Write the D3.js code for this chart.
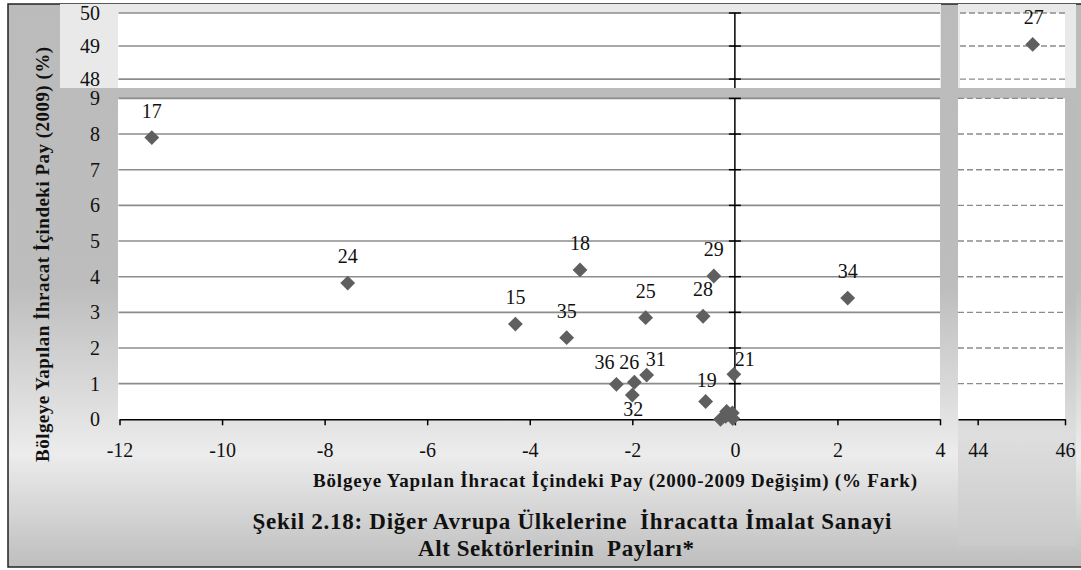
<!DOCTYPE html>
<html>
<head>
<meta charset="utf-8">
<script src="https://cdn.jsdelivr.net/npm/d3@7/dist/d3.min.js"></script>
<style>
  html, body { margin: 0; padding: 0; background: #ffffff; }
  svg { display: block; }
  svg text { font-family: "Liberation Serif", "Times New Roman", Times, serif; fill: #111; }
</style>
</head>
<body>
<svg id="chart" width="1081" height="570"></svg>
<script>
// ---- DATA ----
const sectors = ["17","24","15","18","35","25","28","29","34","36","26","31","32","21","19","","","","",""];
const xChange = [-11.37,-7.55,-4.28,-3.02,-3.28,-1.74,-0.62,-0.41,2.20,-2.31,-1.96,-1.72,-2.00,-0.02,-0.57,-0.28,-0.16,-0.05,-0.04,-0.18];
const yShare  = [7.90,3.82,2.67,4.19,2.29,2.85,2.89,4.02,3.40,0.98,1.04,1.24,0.68,1.26,0.50,0.00,0.22,0.18,0.02,0.08];
const outlierSectors = ["27"];
const outlierX = [45.26];
const outlierY = [49.05];
const xTicksMain = [-12,-10,-8,-6,-4,-2,0,2,4];
const xTicksRight = [44,46];
const yTicksMain = [0,1,2,3,4,5,6,7,8,9];
const yTicksTop = [48,49,50];
const xTitle = "Bölgeye Yapılan İhracat İçindeki Pay (2000-2009 Değişim) (% Fark)";
const yTitle = "Bölgeye Yapılan İhracat İçindeki Pay (2009) (%)";
const titleLines = ["Şekil 2.18: Diğer Avrupa Ülkelerine  İhracatta İmalat Sanayi", "Alt Sektörlerinin  Payları*"];

// ---- STYLE / LAYOUT ----
const FONT = "'Liberation Serif', 'Times New Roman', Times, serif";
const labelOffset = { "36":[-12,-15], "26":[-5,-13], "31":[9,-9], "32":[1,21], "21":[11,-8], "19":[1,-14] };
const defaultOffset = [0,-20];

const svg = d3.select("#chart");
const defs = svg.append("defs");
const g1 = defs.append("linearGradient").attr("id","bgGrad").attr("x1",0).attr("y1",0).attr("x2",0).attr("y2",1);
[[0,"#bbbbbb"],[0.5,"#bdbdbd"],[0.8,"#ececec"],[1,"#bebebe"]].forEach(s=>g1.append("stop").attr("offset",s[0]).attr("stop-color",s[1]));
const g2 = defs.append("linearGradient").attr("id","rightGrad").attr("x1",0).attr("y1",0).attr("x2",0).attr("y2",1);
[[0,"#bbbbbb"],[0.45,"#bcbcbc"],[0.75,"#dedede"],[1,"#cacaca"]].forEach(s=>g2.append("stop").attr("offset",s[0]).attr("stop-color",s[1]));

// scales
const x = d3.scaleLinear().domain([-12,4]).range([119.5,940]);
const xR = d3.scaleLinear().domain([43.55,46]).range([958,1065]);
const y = d3.scaleLinear().domain([0,9]).range([419.3,98.4]);
const yT = d3.scaleLinear().domain([47.73,50]).range([88,13]);

// frame background
svg.append("rect").attr("x",8).attr("y",4).attr("width",1090).attr("height",563)
  .attr("fill","url(#bgGrad)").attr("stroke","#222").attr("stroke-width",1.5);

// right lower panel background
svg.append("rect").attr("x",958).attr("y",99).attr("width",118).attr("height",447).attr("fill","url(#rightGrad)");

// top panels backgrounds
svg.append("rect").attr("x",60).attr("y",4).attr("width",881).attr("height",84).attr("fill","#e9e9e9");
svg.append("rect").attr("x",958).attr("y",4).attr("width",118).attr("height",84).attr("fill","#e9e9e9");

// plot areas
svg.append("rect").attr("x",x(-12)-1.5).attr("y",yT(50)).attr("width",x(4)-x(-12)+1.5).attr("height",yT(47.73)-yT(50)).attr("fill","#fff");
svg.append("rect").attr("x",xR(43.55)+2).attr("y",yT(50)).attr("width",xR(46)-xR(43.55)-2).attr("height",yT(47.73)-yT(50)).attr("fill","#fff");
svg.append("rect").attr("x",x(-12)-1.5).attr("y",y(9)).attr("width",x(4)-x(-12)+1.5).attr("height",y(0)-y(9)).attr("fill","#fff");
svg.append("rect").attr("x",xR(43.55)).attr("y",y(9)).attr("width",xR(46)-xR(43.55)).attr("height",y(0)-y(9)).attr("fill","#fff");

// gridlines
const gridMain = yTicksMain.filter(v=>v>0);
svg.append("g").selectAll("line").data(gridMain).join("line")
  .attr("x1",x(-12)-1).attr("x2",x(4)).attr("y1",d=>y(d)).attr("y2",d=>y(d))
  .attr("stroke","#8c8c8c").attr("stroke-width",1.6);
svg.append("g").selectAll("line").data(yTicksTop).join("line")
  .attr("x1",x(-12)-1).attr("x2",x(4)).attr("y1",d=>yT(d)).attr("y2",d=>yT(d))
  .attr("stroke","#8c8c8c").attr("stroke-width",1.6);
svg.append("g").selectAll("line").data(gridMain).join("line")
  .attr("x1",xR(43.55)).attr("x2",xR(46)).attr("y1",d=>y(d)).attr("y2",d=>y(d))
  .attr("stroke","#8c8c8c").attr("stroke-width",1.4).attr("stroke-dasharray","6,3");
svg.append("g").selectAll("line").data(yTicksTop).join("line")
  .attr("x1",xR(43.55)+2).attr("x2",xR(46)).attr("y1",d=>yT(d)).attr("y2",d=>yT(d))
  .attr("stroke","#8c8c8c").attr("stroke-width",1.4).attr("stroke-dasharray","6,3");

// vertical axes at x=0 (main and top)
svg.append("line").attr("x1",x(0)).attr("x2",x(0)).attr("y1",y(9)).attr("y2",y(0)).attr("stroke","#000").attr("stroke-width",1.5);
svg.append("g").selectAll("line").data(gridMain).join("line")
  .attr("x1",x(0)-6).attr("x2",x(0)+6).attr("y1",d=>y(d)).attr("y2",d=>y(d)).attr("stroke","#000").attr("stroke-width",1.5);
svg.append("line").attr("x1",x(0)).attr("x2",x(0)).attr("y1",yT(50)).attr("y2",yT(47.73)).attr("stroke","#000").attr("stroke-width",1.5);
svg.append("g").selectAll("line").data(yTicksTop).join("line")
  .attr("x1",x(0)-6).attr("x2",x(0)+6).attr("y1",d=>yT(d)).attr("y2",d=>yT(d)).attr("stroke","#000").attr("stroke-width",1.5);

// x axes
const axMain = svg.append("g").attr("transform",`translate(0,${y(0)})`)
  .call(d3.axisBottom(x).tickValues(xTicksMain).tickSize(6).tickSizeOuter(0).tickFormat(d3.format("d")));
const axRight = svg.append("g").attr("transform",`translate(0,${y(0)})`)
  .call(d3.axisBottom(xR).tickValues(xTicksRight).tickSize(6).tickSizeOuter(0).tickFormat(d3.format("d")));
[axMain, axRight].forEach(a=>{
  a.attr("font-family",FONT).attr("font-size",20);
  a.select(".domain").attr("stroke","#000").attr("stroke-width",1.5);
  a.selectAll(".tick line").attr("stroke","#000").attr("stroke-width",1.5);
  a.selectAll(".tick text").attr("font-family",FONT).attr("font-size",20).attr("dy",0).attr("y",38).attr("fill","#111")
    .text(d=> d<0 ? "-"+Math.abs(d) : d);
});

// y tick labels
svg.append("g").selectAll("text").data(yTicksMain).join("text").attr("font-family",FONT)
  .attr("x",100).attr("y",d=>y(d)).attr("dy","0.35em").attr("text-anchor","end").attr("font-size",20).text(d=>d);
svg.append("g").selectAll("text").data(yTicksTop).join("text").attr("font-family",FONT)
  .attr("x",100).attr("y",d=>yT(d)).attr("dy","0.33em").attr("text-anchor","end").attr("font-size",20).text(d=>d);

// points
const pts = sectors.map((s,i)=>({name:s, x:xChange[i], y:yShare[i]}));
const diamond = d3.symbol().type(d3.symbolSquare).size(110);
svg.append("g").selectAll("path").data(pts).join("path")
  .attr("d",diamond).attr("transform",d=>`translate(${x(d.x)},${y(d.y)}) rotate(45)`).attr("fill","#5f5f5f");
svg.append("g").selectAll("text").data(pts.filter(d=>d.name!=="")).join("text").attr("font-family",FONT)
  .attr("x",d=>x(d.x)+(labelOffset[d.name]||defaultOffset)[0])
  .attr("y",d=>y(d.y)+(labelOffset[d.name]||defaultOffset)[1])
  .attr("text-anchor","middle").attr("font-size",20).text(d=>d.name);

const opts = outlierSectors.map((s,i)=>({name:s, x:outlierX[i], y:outlierY[i]}));
svg.append("g").selectAll("path").data(opts).join("path")
  .attr("d",diamond).attr("transform",d=>`translate(${xR(d.x)},${yT(d.y)}) rotate(45)`).attr("fill","#5f5f5f");
svg.append("g").selectAll("text").data(opts).join("text").attr("font-family",FONT)
  .attr("x",d=>xR(d.x)+1).attr("y",d=>yT(d.y)-20)
  .attr("text-anchor","middle").attr("font-size",20).text(d=>d.name);

// titles
svg.append("text").attr("font-family",FONT).attr("x",615).attr("y",487).attr("text-anchor","middle")
  .attr("font-weight","bold").attr("font-size",19).attr("textLength",604).attr("lengthAdjust","spacing").text(xTitle);
svg.append("text").attr("font-family",FONT).attr("transform","translate(49,254.5) rotate(-90)").attr("text-anchor","middle")
  .attr("font-weight","bold").attr("font-size",19).attr("textLength",415).attr("lengthAdjust","spacing").text(yTitle);
svg.append("text").attr("font-family",FONT).attr("x",572).attr("y",529).attr("text-anchor","middle").style("white-space","pre")
  .attr("font-weight","bold").attr("font-size",23).attr("textLength",639).attr("lengthAdjust","spacing").text(titleLines[0]);
svg.append("text").attr("font-family",FONT).attr("x",556).attr("y",556).attr("text-anchor","middle").style("white-space","pre")
  .attr("font-weight","bold").attr("font-size",23).attr("textLength",276).attr("lengthAdjust","spacing").text(titleLines[1]);
</script>
</body>
</html>
